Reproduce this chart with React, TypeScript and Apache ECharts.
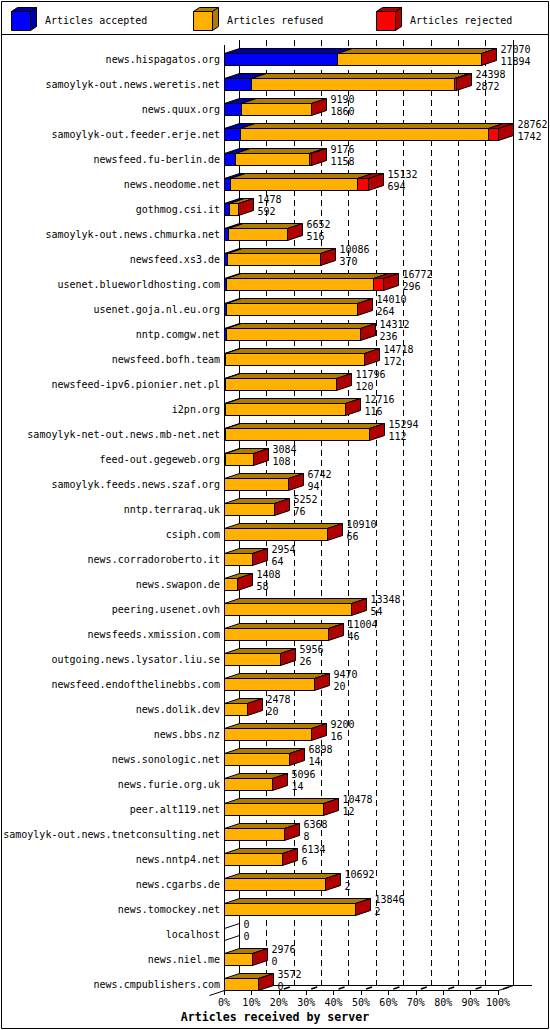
import React, { useEffect, useRef } from "react";
import * as echarts from "echarts";

const CATEGORIES = [
  "news.hispagatos.org",
  "samoylyk-out.news.weretis.net",
  "news.quux.org",
  "samoylyk-out.feeder.erje.net",
  "newsfeed.fu-berlin.de",
  "news.neodome.net",
  "gothmog.csi.it",
  "samoylyk-out.news.chmurka.net",
  "newsfeed.xs3.de",
  "usenet.blueworldhosting.com",
  "usenet.goja.nl.eu.org",
  "nntp.comgw.net",
  "newsfeed.bofh.team",
  "newsfeed-ipv6.pionier.net.pl",
  "i2pn.org",
  "samoylyk-net-out.news.mb-net.net",
  "feed-out.gegeweb.org",
  "samoylyk.feeds.news.szaf.org",
  "nntp.terraraq.uk",
  "csiph.com",
  "news.corradoroberto.it",
  "news.swapon.de",
  "peering.usenet.ovh",
  "newsfeeds.xmission.com",
  "outgoing.news.lysator.liu.se",
  "newsfeed.endofthelinebbs.com",
  "news.dolik.dev",
  "news.bbs.nz",
  "news.sonologic.net",
  "news.furie.org.uk",
  "peer.alt119.net",
  "samoylyk-out.news.tnetconsulting.net",
  "news.nntp4.net",
  "news.cgarbs.de",
  "news.tomockey.net",
  "localhost",
  "news.niel.me",
  "news.cmpublishers.com",
];

const TOTALS = [
  27070, 24398, 9190, 28762, 9176, 15132, 1478, 6652, 10086, 16772, 14010,
  14312, 14718, 11796, 12716, 15294, 3084, 6742, 5252, 10910, 2954, 1408,
  13348, 11004, 5956, 9470, 2478, 9200, 6898, 5096, 10478, 6368, 6134, 10692,
  13846, 0, 2976, 3572,
];

const ACCEPTED = [
  11894, 2872, 1860, 1742, 1158, 694, 592, 516, 370, 296, 264, 236, 172, 120,
  116, 112, 108, 94, 76, 66, 64, 58, 54, 46, 26, 20, 20, 16, 14, 14, 12, 8, 6,
  2, 2, 0, 0, 0,
];

const REJECTED = [
  0, 220, 0, 1020, 180, 1100, 0, 0, 0, 1100, 0, 0, 0, 0, 0, 0, 0, 0, 0, 0, 0,
  0, 0, 0, 0, 0, 0, 0, 0, 0, 0, 0, 0, 0, 0, 0, 0, 0,
];

const REFUSED = TOTALS.map((t, i) => Math.max(0, t - ACCEPTED[i] - REJECTED[i]));

const TICKS = [0, 10, 20, 30, 40, 50, 60, 70, 80, 90, 100];

const LEGEND = [
  { name: "Articles accepted", color: "#0000FF", dark: "#0000A8" },
  { name: "Articles refused", color: "#FFB000", dark: "#B07C00" },
  { name: "Articles rejected", color: "#FF0000", dark: "#B00000" },
];

const TITLE = "Articles received by server";

// layout
const W = 550;
const H = 1030;
const GRID_LEFT = 224;
const GRID_TOP = 40;
const GRID_W = 274;
const GRID_H = 950;
const DX = 15;
const DY = 5;
const MONO = "'DejaVu Sans Mono', 'Liberation Mono', monospace";

const snap = (v: number) => Math.round(v - 0.5) + 0.5;

export default function App() {
  const ref = useRef<HTMLDivElement>(null);

  useEffect(() => {
    document.body.style.margin = "0";
    if (!ref.current) return;
    const chart = echarts.init(ref.current, undefined, { renderer: "svg" });
    const maxTotal = Math.max(...TOTALS);
    const pct = (v: number) => (v / maxTotal) * 100;
    const rows = CATEGORIES.map((_, i) => [
      i,
      pct(ACCEPTED[i]),
      pct(REFUSED[i]),
      pct(REJECTED[i]),
      TOTALS[i],
      ACCEPTED[i],
    ]);

    const frontLeft = GRID_LEFT + 0.5;
    const floorY = GRID_TOP + GRID_H + 0.5;
    const backLeft = GRID_LEFT + DX + 0.5;
    const backRight = GRID_LEFT + GRID_W + DX + 0.5;
    const backFloorY = floorY - DY;
    const step = GRID_W / 100;

    const line = (x1: number, y1: number, x2: number, y2: number, extra: any = {}) => ({
      type: "line",
      z: 1,
      shape: { x1, y1, x2, y2 },
      style: { stroke: "#000", lineWidth: 1, ...extra },
    });

    const graphics: any[] = [
      {
        type: "rect",
        z: 1,
        shape: { x: 1.5, y: 1.5, width: W - 3, height: H - 3 },
        style: { fill: "none", stroke: "#000", lineWidth: 1 },
      },
      line(1.5, 34.5, W - 1.5, 34.5),
      // back walls
      line(backLeft, GRID_TOP, backLeft, backFloorY),
      line(backRight, GRID_TOP, backRight, backFloorY),
      // floor
      line(backLeft, backFloorY, backRight + 18.5, backFloorY),
      line(frontLeft + GRID_W, floorY, backRight, backFloorY),
      line(frontLeft - DX, floorY + DY, frontLeft, floorY),
      // front vertical axis
      line(frontLeft, GRID_TOP + DY, frontLeft, floorY),
    ];

    // floor slant marks (partly visible dashed continuations of grid lines)
    TICKS.forEach((t) => {
      const bx = backLeft + t * step;
      const fx = frontLeft + t * step;
      const a = 0.3;
      const b = 0.7;
      graphics.push(
        line(bx + (fx - bx) * a, backFloorY + (floorY - backFloorY) * a, bx + (fx - bx) * b, backFloorY + (floorY - backFloorY) * b, { lineWidth: 1.5 })
      );
    });

    // legend
    const legendX = [11, 193, 376];
    LEGEND.forEach((item, i) => {
      const x = legendX[i] + 0.5;
      const y = 11.5;
      const s = 19;
      const d = 6;
      const e = 4;
      graphics.push(
        {
          type: "polygon",
          z: 2,
          shape: { points: [[x, y], [x + s, y], [x + s + d, y - e], [x + d, y - e]] },
          style: { fill: item.dark, stroke: "#000", lineWidth: 1 },
        },
        {
          type: "polygon",
          z: 2,
          shape: { points: [[x + s, y], [x + s + d, y - e], [x + s + d, y + s - e], [x + s, y + s]] },
          style: { fill: item.dark, stroke: "#000", lineWidth: 1 },
        },
        {
          type: "rect",
          z: 2,
          shape: { x, y, width: s, height: s },
          style: { fill: item.color, stroke: "#000", lineWidth: 1 },
        },
        {
          type: "text",
          z: 2,
          style: {
            text: item.name,
            x: legendX[i] + 34,
            y: 20.5,
            fill: "#000",
            fontSize: 10,
            fontFamily: MONO,
            verticalAlign: "middle",
            align: "left",
          },
        }
      );
    });

    const option: any = {
      animation: false,
      backgroundColor: "#fff",
      title: {
        text: TITLE,
        left: "center",
        top: 1010,
        padding: 0,
        textStyle: {
          fontSize: 11.6,
          fontWeight: "bold",
          fontFamily: MONO,
          color: "#000",
          lineHeight: 14,
        },
      },
      grid: [
        { left: GRID_LEFT, top: GRID_TOP, width: GRID_W, height: GRID_H },
        { left: GRID_LEFT + DX, top: GRID_TOP, width: GRID_W, height: GRID_H - DY },
      ],
      xAxis: [
        {
          gridIndex: 0,
          type: "value",
          min: 0,
          max: 100,
          interval: 10,
          axisLine: { show: true, lineStyle: { color: "#000", width: 1 } },
          axisTick: { show: true, length: 5, lineStyle: { color: "#000", width: 1 } },
          axisLabel: {
            formatter: "{value}%",
            fontSize: 10,
            fontFamily: MONO,
            color: "#000",
            margin: 7,
          },
          splitLine: { show: false },
        },
        {
          gridIndex: 1,
          type: "value",
          min: 0,
          max: 100,
          interval: 10,
          axisLine: { show: false },
          axisTick: { show: false },
          axisLabel: { show: false },
          splitLine: { show: true, lineStyle: { color: "#000", width: 1, type: [6, 4] } },
        },
      ],
      yAxis: [
        {
          gridIndex: 0,
          type: "category",
          inverse: true,
          data: CATEGORIES,
          axisLine: { show: false },
          axisTick: { show: false },
          splitLine: { show: false },
          axisLabel: {
            interval: 0,
            fontSize: 10,
            fontFamily: MONO,
            color: "#000",
            margin: 4,
            verticalAlign: "top",
            lineHeight: 13,
          },
        },
        { gridIndex: 1, type: "value", show: false },
      ],
      graphic: { elements: graphics },
      series: [
        {
          type: "custom",
          xAxisIndex: 0,
          yAxisIndex: 0,
          z: 5,
          clip: false,
          encode: { x: 1, y: 0 },
          data: rows,
          renderItem: (_params: any, api: any) => {
            const idx = api.value(0);
            const segs = [api.value(1), api.value(2), api.value(3)];
            const origin = api.coord([0, idx]);
            const cy = origin[1];
            const yt = Math.floor(cy) + 1.5;
            const yb = yt + 12;
            const xs = [snap(origin[0])];
            let acc = 0;
            segs.forEach((v: number) => {
              acc += v;
              xs.push(snap(api.coord([acc, idx])[0]));
            });
            const empty = xs[3] - xs[0] < 0.5;
            const children: any[] = [];
            for (let i = 0; i < 3; i++) {
              const a = xs[i];
              const b = xs[i + 1];
              if (b - a < 0.5) continue;
              children.push({
                type: "polygon",
                shape: { points: [[a, yt], [b, yt], [b + DX, yt - DY], [a + DX, yt - DY]] },
                style: { fill: LEGEND[i].dark, stroke: "#000", lineWidth: 1 },
              });
              children.push({
                type: "rect",
                shape: { x: a, y: yt, width: b - a, height: yb - yt },
                style: { fill: LEGEND[i].color, stroke: "#000", lineWidth: 1 },
              });
            }
            const xe = xs[3];
            if (empty) {
              children.push({
                type: "line",
                shape: { x1: xe, y1: yt, x2: xe + DX, y2: yt - DY },
                style: { stroke: "#000", lineWidth: 1 },
              });
              children.push({
                type: "line",
                shape: { x1: xe, y1: yb, x2: xe + DX, y2: yb - DY },
                style: { stroke: "#000", lineWidth: 1 },
              });
            } else {
              children.push({
                type: "polygon",
                shape: { points: [[xe, yt], [xe + DX, yt - DY], [xe + DX, yb - DY], [xe, yb]] },
                style: { fill: LEGEND[2].dark, stroke: "#000", lineWidth: 1 },
              });
            }
            children.push({
              type: "text",
              style: {
                text: `${api.value(4)}\n${api.value(5)}`,
                x: xe + DX + 4,
                y: cy + 2.5,
                fill: "#000",
                fontSize: 10,
                fontFamily: MONO,
                lineHeight: 12,
                align: "left",
                verticalAlign: "middle",
              },
            });
            return { type: "group", children };
          },
        },
      ],
    };

    chart.setOption(option);
    return () => chart.dispose();
  }, []);

  return <div ref={ref} style={{ width: W, height: H }} />;
}
